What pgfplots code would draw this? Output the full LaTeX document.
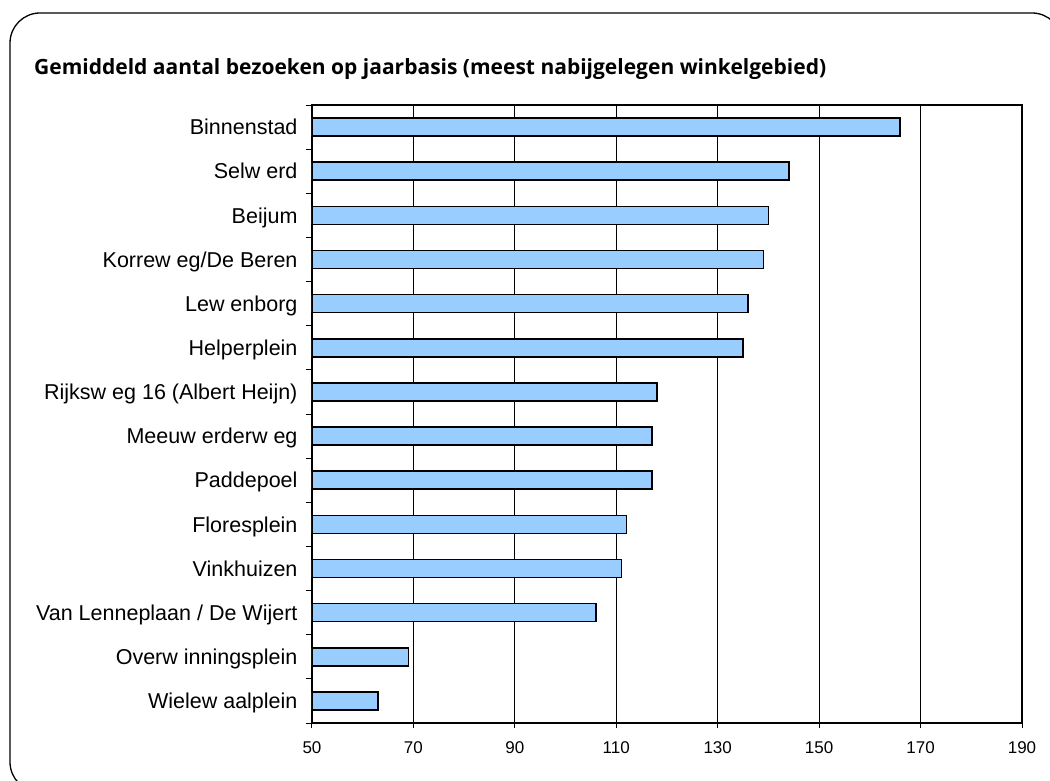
\documentclass[border=0pt]{standalone}
\usepackage{pgfplots}
\pgfplotsset{compat=1.18}
\usepackage{fontspec}
\setmainfont{Liberation Sans}
\newfontfamily\titlefont{Open Sans}
\definecolor{barblue}{HTML}{99CCFF}
\begin{document}
\begin{tikzpicture}[x=1pt,y=1pt]
\useasboundingbox (0,0) rectangle (1050,780);
\draw[line width=1.3pt, rounded corners=30pt] (10,-12) rectangle (1062,767);
\node[anchor=base west, inner sep=0pt, font=\titlefont\bfseries\fontsize{21}{24}\selectfont] at (34,705) {Gemiddeld aantal bezoeken op jaarbasis (meest nabijgelegen winkelgebied)};
\begin{axis}[
  at={(312pt,57pt)}, anchor=south west,
  scale only axis, width=710pt, height=618pt,
  xmin=50, xmax=190, xtick={50,70,...,190},
  ymin=-0.5, ymax=13.5, y dir=reverse,
  ytick={0,...,13},
  yticklabels={Binnenstad,Selw erd,Beijum,Korrew eg/De Beren,Lew enborg,Helperplein,Rijksw eg 16 (Albert Heijn),Meeuw erderw eg,Paddepoel,Floresplein,Vinkhuizen,Van Lenneplaan / De Wijert,Overw inningsplein,Wielew aalplein},
  minor ytick={-0.5,0.5,...,13.5},
  every major y tick/.style={draw=none},
  tick pos=left,
  tick align=outside, major tick length=5pt, minor tick length=6pt,
  xmajorgrids, grid style={black, line width=0.8pt},
  axis line style={line width=1.2pt},
  tick style={black, line width=1pt},
  /pgf/number format/assume math mode=true,
  xticklabel style={font=\fontsize{17}{19}\selectfont, yshift=-10pt},
  yticklabel style={font=\fontsize{21.5}{24}\selectfont, xshift=-6pt, text height=15.4pt, text depth=0pt},
]
\addplot[xbar, fill=barblue, draw=black, line width=1.6pt, bar width=18pt] coordinates {
(166,0) (144,1) (140,2) (139,3) (136,4) (135,5) (118,6) (117,7) (117,8) (112,9) (111,10) (106,11) (69,12) (63,13)
};
\end{axis}
\end{tikzpicture}
\end{document}
